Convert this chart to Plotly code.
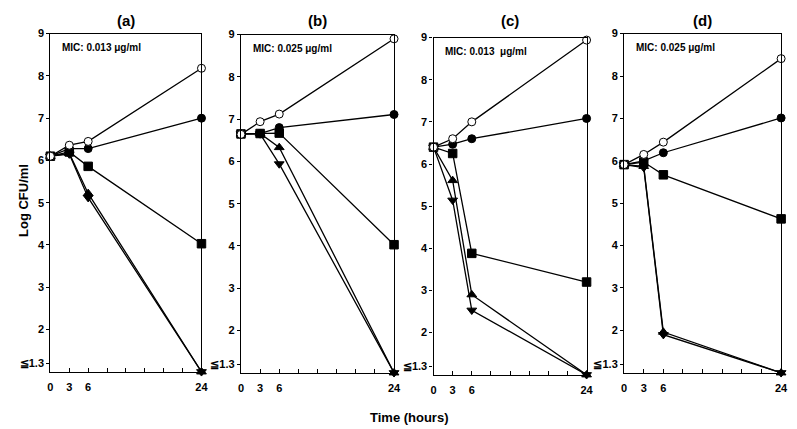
import plotly.graph_objects as go

TIMES = [0, 3, 6, 24]
PANELS = ["(a)", "(b)", "(c)", "(d)"]
MIC_TEXT = ["MIC: 0.013 μg/ml", "MIC: 0.025 μg/ml", "MIC: 0.013  μg/ml", "MIC: 0.025 μg/ml"]

# values per panel, one list per series (log CFU/ml at 0, 3, 6, 24 h); 1.0 = "≦1.3"
OPEN_CIRCLE = [
    [6.1, 6.36, 6.45, 8.18],
    [6.64, 6.94, 7.12, 8.9],
    [6.4, 6.6, 7.0, 8.94],
    [5.91, 6.15, 6.44, 8.41],
]
FILLED_CIRCLE = [
    [6.1, 6.28, 6.28, 7.0],
    [6.65, 6.66, 6.8, 7.11],
    [6.4, 6.47, 6.6, 7.08],
    [5.91, 6.0, 6.19, 7.01],
]
SQUARE = [
    [6.1, 6.2, 5.86, 4.03],
    [6.65, 6.66, 6.67, 4.03],
    [6.4, 6.25, 3.88, 3.2],
    [5.91, 5.97, 5.67, 4.63],
]
TRI_UP = [
    [6.1, 6.17, 5.22, 1.0],
    [6.65, 6.66, 6.33, 1.0],
    [6.4, 5.61, 2.9, 1.0],
    [5.91, 5.87, 1.96, 1.0],
]
TRI_DOWN = [
    [6.1, 6.15, 5.12, 1.0],
    [6.65, 6.65, 5.94, 1.0],
    [6.4, 5.14, 2.53, 1.0],
    [5.91, 5.84, 1.9, 1.0],
]

Y_TICKS = [1.2, 2, 3, 4, 5, 6, 7, 8, 9]
Y_TICK_TEXT = ["≦1.3", "2", "3", "4", "5", "6", "7", "8", "9"]
X_TICKS = [0, 3, 6, 9, 12, 15, 18, 21, 24]
X_TICK_TEXT = ["0", "3", "6", "", "", "", "", "", "24"]

W, H = 797, 429
# plot boxes in pixels: left, right, top, bottom
BOXES = [(48, 201, 28, 371), (241, 396, 29, 372), (436, 591, 32, 374), (629, 788, 28, 372)]

FONT = "Liberation Sans, Arial, sans-serif"

series = [
    (SQUARE, "square", "black"),
    (TRI_UP, "triangle-up", "black"),
    (TRI_DOWN, "triangle-down", "black"),
    (FILLED_CIRCLE, "circle", "black"),
    (OPEN_CIRCLE, "circle", "white"),
]

fig = go.Figure()
layout = {}
annotations = []

for i in range(4):
    n = "" if i == 0 else str(i + 1)
    l, r, t, b = BOXES[i]
    for data, sym, fill in series:
        fig.add_trace(go.Scatter(
            x=TIMES, y=data[i],
            xaxis="x" + n, yaxis="y" + n,
            mode="lines+markers",
            line=dict(color="black", width=1.3),
            marker=dict(symbol=sym, size=8.5 if sym != "circle" else 8, color=fill,
                        line=dict(color="black", width=1)),
            cliponaxis=False,
            showlegend=False,
        ))
    layout["xaxis" + n] = dict(
        domain=[l / W, r / W], anchor="y" + n, range=[0, 24],
        tickmode="array", tickvals=X_TICKS, ticktext=X_TICK_TEXT,
        ticks="inside", ticklen=4, tickcolor="black", tickwidth=1,
        ticklabelstandoff=5,
        showline=True, linecolor="black", linewidth=1.3, mirror=True,
        showgrid=False, zeroline=False,
        tickfont=dict(family=FONT, size=11, color="black", weight="bold"),
    )
    layout["yaxis" + n] = dict(
        domain=[1 - b / H, 1 - t / H], anchor="x" + n, range=[1, 9],
        tickmode="array", tickvals=Y_TICKS, ticktext=Y_TICK_TEXT,
        ticks="outside", ticklen=3, tickcolor="black", tickwidth=1,
        showline=True, linecolor="black", linewidth=1.3, mirror=True,
        showgrid=False, zeroline=False,
        tickfont=dict(family=FONT, size=11, color="black", weight="bold"),
    )
    annotations.append(dict(
        text=PANELS[i], x=(l + r) / 2 / W, y=1 - 15 / H, xref="paper", yref="paper",
        showarrow=False, xanchor="center", yanchor="middle",
        font=dict(family=FONT, size=15, color="black", weight="bold"),
    ))
    annotations.append(dict(
        text=MIC_TEXT[i], x=(l + 10) / W, y=1 - (t + 14) / H, xref="paper", yref="paper",
        showarrow=False, xanchor="left", yanchor="middle",
        font=dict(family=FONT, size=10, color="black", weight="bold"),
    ))

annotations.append(dict(
    text="Log CFU/ml", x=20 / W, y=1 - 197 / H, xref="paper", yref="paper",
    showarrow=False, textangle=-90, xanchor="center", yanchor="middle",
    font=dict(family=FONT, size=13, color="black", weight="bold"),
))
annotations.append(dict(
    text="Time (hours)", x=412 / W, y=1 - 417 / H, xref="paper", yref="paper",
    showarrow=False, xanchor="center", yanchor="middle",
    font=dict(family=FONT, size=13, color="black", weight="bold"),
))

fig.update_layout(
    **layout,
    annotations=annotations,
    width=W, height=H,
    margin=dict(l=0, r=0, t=0, b=0),
    plot_bgcolor="white", paper_bgcolor="white",
)

# page has default body margins; remove them so the figure fills the window
fig.write_html("out.html", config={"displayModeBar": False},
               post_script="document.body.style.margin='0';")
